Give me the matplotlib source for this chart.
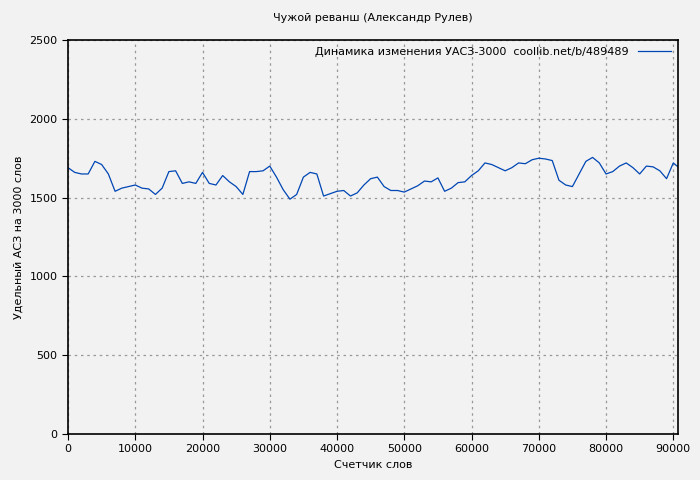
import matplotlib.pyplot as plt
import numpy as np

words = list(range(0, 91000, 1000)) + [90700]
values = [1690, 1660, 1650, 1650, 1730, 1710, 1650, 1540, 1560, 1570,
          1580, 1560, 1555, 1520, 1560, 1665, 1670, 1590, 1600, 1590,
          1660, 1590, 1580, 1640, 1600, 1570, 1520, 1665, 1665, 1670,
          1700, 1630, 1550, 1490, 1520, 1630, 1660, 1650, 1510, 1525,
          1540, 1545, 1510, 1530, 1580, 1620, 1630, 1570, 1545, 1545,
          1535, 1555, 1575, 1605, 1600, 1625, 1540, 1560, 1595, 1600,
          1640, 1670, 1720, 1710, 1690, 1670, 1690, 1720, 1715, 1740,
          1750, 1745, 1735, 1610, 1580, 1570, 1650, 1730, 1755, 1720,
          1650, 1665, 1700, 1720, 1690, 1650, 1700, 1695, 1670, 1620,
          1720, 1695]

fig = plt.figure(figsize=(7, 4.8), dpi=100, facecolor='#f2f2f2')
ax = fig.add_axes([68/700, 46/480, 610/700, 394/480], facecolor='#f2f2f2')
ax.plot(words, values, color='#0046b4', lw=0.9,
        label='Динамика изменения УАСЗ-3000  coollib.net/b/489489')
ax.set_xlim(0, 90700)
ax.set_ylim(0, 2500)
ax.set_xticks(range(0, 90001, 10000))
ax.set_yticks(range(0, 2501, 500))
ax.grid(True, color='#999999', linestyle=(0, (2, 3)), lw=0.9)
ax.tick_params(labelsize=8, direction='out', length=4)
for s in ax.spines.values():
    s.set_linewidth(1.2)
ax.set_title('Чужой реванш (Александр Рулев)', fontsize=8, pad=14)
ax.set_xlabel('Счетчик слов', fontsize=8)
ax.set_ylabel('Удельный АСЗ на 3000 слов', fontsize=8)
ax.legend(loc='upper right', fontsize=8, frameon=False, markerfirst=False,
          handlelength=3, borderaxespad=0.2)
fig.savefig('out.png', dpi=100, facecolor=fig.get_facecolor())
